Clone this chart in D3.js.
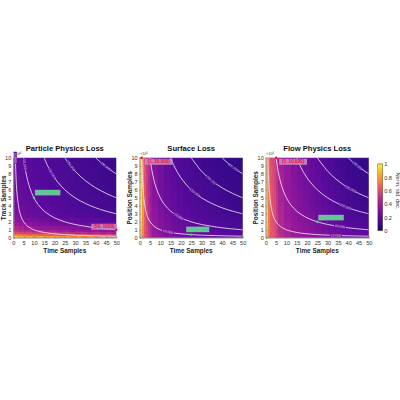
<!DOCTYPE html>
<html><head><meta charset="utf-8">
<script src="https://cdn.jsdelivr.net/npm/d3@7/dist/d3.min.js"></script>
<style>html,body{margin:0;padding:0;background:#fff}svg{display:block}text{font-family:"Liberation Sans",Arial,sans-serif}</style>
</head><body><svg id="c" width="400" height="400"></svg>
<script>
const xEdges=[0,1,2,3,4,5,6,9,12,15,18,21,24,27,30,33,36,39,42,45,48,50];
const yEdges=[0,.25,.5,.75,1,1.5,2,2.5,3,3.5,4,5,6,7,8,9,10];
const xTicks=[0,5,10,15,20,25,30,35,40,45,50];
const yTicks=[0,1,2,3,4,5,6,7,8,9,10];
const cbTicks=[0,.2,.4,.6,.8,1];
const paletteStops=["#17087a","#5a0a9c","#9c1a9c","#dd4f6e","#f79c33","#f8f23c"];
const physicsGrid=[
[88,90,86,84,88,82,85,80,84,78,82,76,80,74,78,72,76,70,74,68,72],
[72,74,70,72,68,70,66,68,64,66,62,64,60,62,58,60,56,58,54,56,52],
[60,58,60,56,58,54,56,52,54,50,52,48,50,48,46,48,44,46,42,44,42],
[52,50,52,48,50,46,48,44,46,42,44,40,42,38,40,38,36,38,34,36,34],
[46,44,46,42,44,40,42,38,38,36,36,34,34,32,32,30,30,28,28,28,26],
[40,38,40,36,38,34,34,32,30,30,28,28,26,26,24,24,24,22,22,22,20],
[36,34,36,32,32,30,30,28,26,26,24,24,22,22,22,20,20,20,18,18,18],
[32,32,30,30,28,28,26,24,24,22,22,20,20,20,18,18,18,16,16,16,16],
[30,28,30,26,26,26,24,24,22,22,20,20,18,18,18,16,16,16,15,15,14],
[28,28,26,26,26,24,24,22,22,20,20,18,18,17,16,16,15,15,14,14,14],
[28,26,26,24,24,24,22,22,20,20,18,18,17,16,16,15,15,14,14,13,13],
[26,26,24,24,23,22,22,20,20,18,18,17,16,16,15,15,14,14,13,13,12],
[25,25,24,23,22,22,21,20,19,18,17,17,16,15,15,14,14,13,13,12,12],
[25,24,24,23,22,21,20,19,18,18,17,16,16,15,14,14,13,13,12,12,12],
[24,24,23,22,22,21,20,19,18,17,17,16,15,15,14,14,13,13,12,12,11],
[24,23,23,22,21,20,20,18,18,17,16,16,15,14,14,13,13,12,12,11,11]];
const surfaceGrid=[
[84,72,60,56,50,46,40,36,32,30,28,27,26,25,24,23,22,21,21,20,20],
[86,74,62,56,52,46,40,35,32,30,28,26,25,24,23,22,21,20,20,19,19],
[88,74,60,54,50,45,39,34,31,29,27,25,24,23,22,21,20,19,19,18,18],
[88,76,62,56,50,44,38,34,30,28,26,25,23,22,21,20,19,18,18,17,17],
[90,76,64,56,50,44,38,33,29,27,25,24,22,21,20,19,18,17,17,16,16],
[92,78,62,54,48,42,37,32,29,26,24,23,21,20,19,18,17,16,16,15,15],
[94,78,64,54,48,42,36,32,28,25,23,22,20,19,18,17,16,15,15,14,14],
[96,80,62,52,46,40,36,31,27,24,22,21,19,18,17,16,15,15,14,13,13],
[96,80,62,54,48,40,35,30,26,24,22,20,19,17,16,15,15,14,13,13,12],
[97,78,64,52,46,42,35,30,26,23,21,20,18,17,16,15,14,13,13,12,12],
[97,80,62,54,46,40,34,29,25,22,20,19,17,16,15,14,13,13,12,11,11],
[96,78,62,52,48,40,34,28,24,22,20,18,16,15,14,13,13,12,11,11,10],
[95,80,62,52,46,40,33,28,24,21,19,17,16,15,14,13,12,11,11,10,10],
[94,78,60,54,46,40,33,27,23,20,18,17,15,14,13,12,11,11,10,10,9],
[92,76,62,52,48,40,32,27,23,20,18,16,15,13,12,12,11,10,10,9,9],
[90,76,60,52,46,40,32,26,22,19,17,16,14,13,12,11,10,10,9,9,8]];
const flowGrid=[
[82,70,62,62,60,54,48,44,42,40,38,36,34,32,30,28,27,25,24,23,22],
[84,72,64,62,60,56,48,44,41,39,37,35,33,31,29,27,25,24,23,22,21],
[86,72,62,64,58,54,47,43,40,38,36,34,32,30,28,26,24,23,22,21,20],
[88,72,64,62,60,54,47,43,40,37,35,33,31,29,27,25,23,22,21,20,19],
[90,74,64,62,58,54,46,42,39,36,34,32,30,28,26,24,22,21,20,18,18],
[92,74,62,62,60,52,46,42,38,35,33,31,29,27,24,22,21,19,18,17,16],
[94,72,64,60,58,52,46,41,37,34,32,30,27,25,23,21,19,18,17,16,15],
[93,74,62,62,58,54,46,40,36,33,31,29,26,24,22,20,18,17,16,15,14],
[92,72,64,60,60,52,45,40,36,33,30,28,25,23,21,19,17,16,15,14,13],
[90,72,62,62,58,52,45,40,36,32,30,27,25,22,20,18,17,15,14,13,13],
[88,72,62,60,58,52,44,39,35,32,29,26,24,21,19,18,16,14,13,12,12],
[86,70,64,60,58,50,44,38,34,31,28,26,23,21,19,17,15,14,12,12,11],
[84,70,62,60,56,50,43,38,34,30,27,25,22,20,18,16,14,13,12,11,10],
[82,70,62,60,56,50,43,37,33,30,27,24,22,19,17,15,14,12,11,10,10],
[80,68,62,58,56,50,42,37,33,29,26,24,21,19,16,15,13,12,11,10,9],
[78,68,60,58,56,48,42,36,32,29,26,23,21,18,16,14,13,11,10,9,9]];
const isoLabels=["10,000","50,000","150,000","250,000","400,000"];
const isoX=[
[1,1.25,1.5,2,3,4,5,7,10,15,20,30,40,50],
[5,6,7,8,10,12,15,20,25,30,40,50],
[15,17,20,25,30,35,40,45,50],
[25,30,35,40,45,50],
[40,42,45,48,50]];
const isoY=[
[10,8,6.67,5,3.33,2.5,2,1.43,1,.67,.5,.33,.25,.2],
[10,8.33,7.14,6.25,5,4.17,3.33,2.5,2,1.67,1.25,1],
[10,8.82,7.5,6,5,4.29,3.75,3.33,3],
[10,8.33,7.14,6.25,5.56,5],
[10,9.52,8.89,8.33,8]];
const titles=["Particle Physics Loss","Surface Loss","Flow Physics Loss"];
const yTitles=["Track Samples","Position Samples","Position Samples"];
const grids=[physicsGrid,surfaceGrid,flowGrid];
const panelLeft=[13.3,139.7,265.8];
const labelAnchorX=[[1,5.5,18.7,28,44.6],[13.7,19,26.8,34.8,45.4],[34,36,38.6,41,44.4]];
const pointsRed=[[50,1],[1,10],[5,10]];
const pointsGreen=[[10,5],[25,.4],[25,2]];
const redText=["(50, 1000)","(1, 10,000)","(5, 10,000)"];
const greenText=["(10, 5000)","(25, 400)","(25, 2000)"];
const redOffset=[[-25,-6],[3,1],[3,1]];
const greenOffset=[[1,-8],[-5,-8],[1,-7]];

const svg=d3.select("#c");
const W=103,T=157.8,B=237.8;
const color=d3.scaleLinear().domain(d3.range(paletteStops.length).map(i=>i/(paletteStops.length-1))).range(paletteStops).clamp(true);
const curve=d3.curveCatmullRom;
grids.forEach((grid,p)=>{
 const L=panelLeft[p];
 const x=d3.scaleLinear().domain([0,50]).range([L,L+W]);
 const y=d3.scaleLinear().domain([0,10]).range([B,T]);
 const g=svg.append("g");
 grid.forEach((row,r)=>{
  g.append("g").selectAll("rect").data(row).join("rect")
   .attr("x",(d,c)=>x(xEdges[c])).attr("width",(d,c)=>x(xEdges[c+1])-x(xEdges[c]))
   .attr("y",y(yEdges[r+1])).attr("height",y(yEdges[r])-y(yEdges[r+1]))
   .attr("fill",d=>color(d/100)).attr("shape-rendering","crispEdges");
 });
 const line=d3.line().x(d=>x(d[0])).y(d=>y(d[1])).curve(curve);
 isoX.forEach((xs,i)=>{
  const pts=xs.map((v,k)=>[v,isoY[i][k]]);
  g.append("path").attr("d",line(pts)).attr("fill","none").attr("stroke","#f4eef8").attr("stroke-width",.8);
 });
 isoLabels.forEach((t,i)=>{
  const xs=isoX[i],ys=isoY[i],lx=labelAnchorX[p][i];
  const k=Math.max(1,d3.bisectLeft(xs,lx));
  const f=(lx-xs[k-1])/(xs[k]-xs[k-1]);
  const ly=ys[k-1]+f*(ys[k]-ys[k-1]);
  let ang=Math.atan2(y(ys[k])-y(ys[k-1]),x(xs[k])-x(xs[k-1]))*180/Math.PI;
  const c=Math.min(d3.bisectRight(xEdges,lx)-1,grid[0].length-1), r=Math.min(d3.bisectRight(yEdges,ly)-1,grid.length-1);
  const lg=g.append("g").attr("transform",`translate(${x(lx)},${y(ly)}) rotate(${ang})`);
  lg.append("rect").attr("x",-6).attr("y",-1.6).attr("width",12).attr("height",3.2).attr("fill",color(grid[r][c]/100));
  lg.append("text").attr("text-anchor","middle").attr("dy",1.2).attr("font-size",3.4).attr("fill","#e4d8f0").text(t);
 });
 g.append("rect").attr("x",L).attr("y",T).attr("width",W).attr("height",B-T).attr("fill","none").attr("stroke","#8a8a8a").attr("stroke-width",.5);
 const ax=g.append("g").attr("transform",`translate(0,${B})`).call(d3.axisBottom(x).tickValues(xTicks).tickSize(-1.5).tickPadding(3.2));
 const ay=g.append("g").attr("transform",`translate(${L},0)`).call(d3.axisLeft(y).tickValues(yTicks).tickSize(-1.5).tickPadding(2));
 [ax,ay].forEach(a=>{a.selectAll("text").attr("font-size",5.6).attr("fill","#333");a.selectAll("line").attr("stroke","#555").attr("stroke-width",.4);a.select(".domain").attr("stroke","#aaa").attr("stroke-width",.8);});
 g.append("text").attr("x",x(25)).attr("y",150.5).attr("text-anchor","middle").attr("font-size",7.6).attr("font-weight","bold").attr("fill","#111").text(titles[p]);
 g.append("text").attr("x",x(25)).attr("y",253).attr("text-anchor","middle").attr("font-size",6.4).attr("font-weight","bold").attr("fill","#222").text("Time Samples");
 g.append("text").attr("transform",`translate(${L-7.5},${(T+B)/2}) rotate(-90)`).attr("text-anchor","middle").attr("font-size",6.4).attr("font-weight","bold").attr("fill","#222").text(yTitles[p]);
 const e=g.append("text").attr("x",L+0.5).attr("y",155).attr("font-size",3.6).attr("fill","#333").text("×10");
 e.append("tspan").attr("font-size",2.6).attr("dy",-1).text("4");
 [[pointsGreen,greenText,greenOffset,"#7fc8a8","#35e07a",24,5.6],[pointsRed,redText,redOffset,"#c78ac8","#f01030",24,6]].forEach(([pts,txt,off,bg,fg,w,h])=>{
  const [px,py]=pts[p];
  const bx=x(px)+off[p][0], by=y(py)+off[p][1];
  const tw=txt[p].length*2.45+1;
  g.append("rect").attr("x",bx).attr("y",by).attr("width",tw).attr("height",h).attr("fill",bg).attr("opacity",.9);
  g.append("text").attr("x",bx+tw/2).attr("y",by+h-1.4).attr("text-anchor","middle").attr("font-size",4.6).attr("font-weight","bold").attr("fill",fg).text(txt[p]);
  g.append("circle").attr("cx",x(px)).attr("cy",y(py)).attr("r",1.2).attr("fill",fg);
 });
});
// colorbar
const cbY=d3.scaleLinear().domain([0,1]).range([230.7,164]);
const cbVals=d3.range(0,67).map(i=>i/66);
const cb=svg.append("g");
cb.selectAll("rect").data(cbVals).join("rect").attr("x",377.7).attr("width",5).attr("y",d=>cbY(d)-1.1).attr("height",1.2).attr("fill",d=>color(d)).attr("shape-rendering","crispEdges");
cb.append("rect").attr("x",377.7).attr("y",164).attr("width",5).attr("height",66.7).attr("fill","none").attr("stroke","#7c7a50").attr("stroke-width",.6);
const cax=cb.append("g").attr("transform","translate(382.7,0)").call(d3.axisRight(cbY).tickValues(cbTicks).tickSize(0).tickPadding(1.5).tickFormat(d3.format("~g")));
cax.select(".domain").remove();
cax.selectAll("text").attr("font-size",5.6).attr("fill","#333");
svg.append("text").attr("transform","translate(396,191) rotate(90)").attr("text-anchor","middle").attr("font-size",5.4).attr("fill","#333").text("Norm. std. dec.");
</script></body></html>
